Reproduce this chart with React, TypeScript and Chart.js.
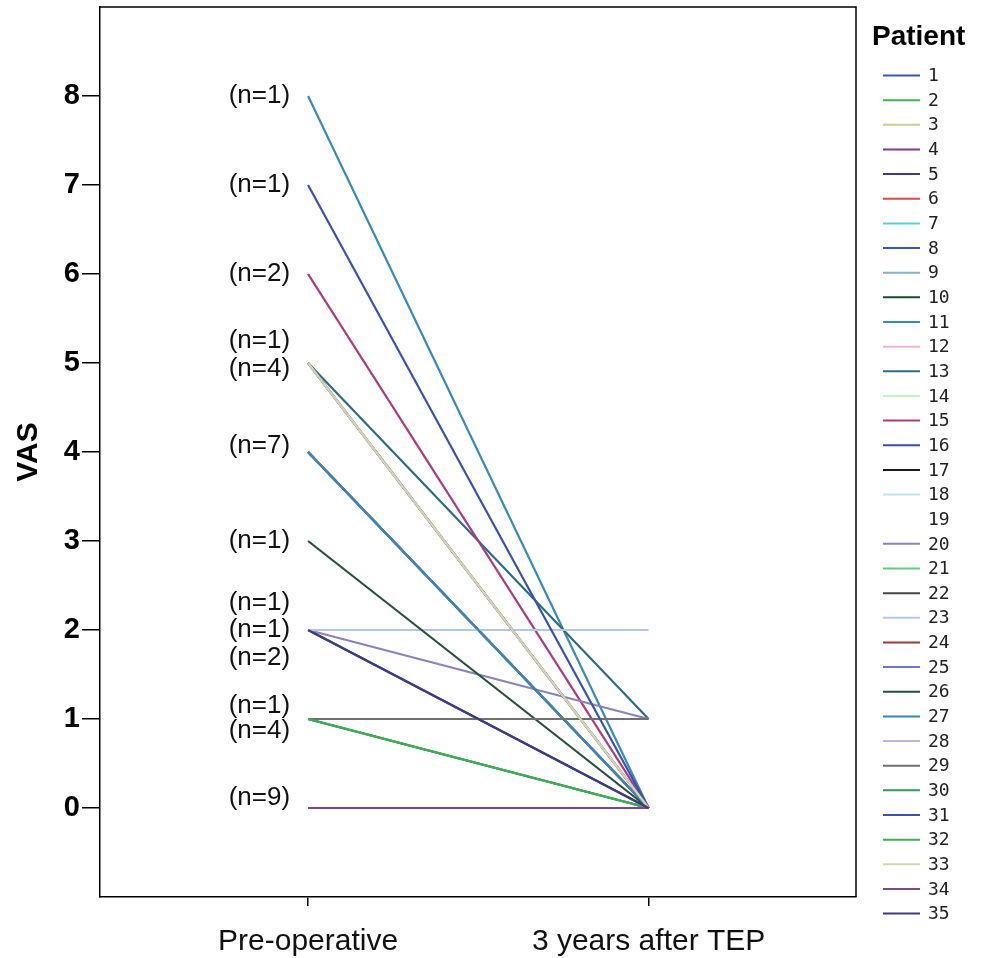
import React, { useEffect, useRef } from "react";
import { Chart, registerables } from "chart.js";

Chart.register(...registerables);

const categories = ["Pre-operative", "3 years after TEP"];
const patients = Array.from({ length: 35 }, (_, i) => String(i + 1));
const preOperative = [4, 1, 5, 0, 2, 0, 0, 4, 0, 0, 8, 6, 5, 0, 6, 4, 0, 4, 4, 2, 1, 4, 2, 5, 5, 3, 4, 0, 1, 1, 7, 1, 5, 0, 2];
const threeYearsAfter = [0, 0, 0, 0, 0, 0, 0, 0, 0, 0, 0, 0, 1, 0, 0, 0, 0, 0, 0, 1, 0, 0, 2, 0, 0, 0, 0, 0, 1, 0, 0, 0, 0, 0, 0];
const patientColors = [
  "#3e58ac", "#3cb453", "#cfcc9c", "#7c3f8c", "#3d3d7e", "#d44a48", "#5cd0cc", "#3e58ac",
  "#86b4c2", "#1f4a32", "#3a8ab5", "#f0b4dc", "#2e6c86", "#c4f0cc", "#a83c82", "#3a4ca4",
  "#1a1a1a", "#bfe6e8", "#ffffff", "#8a84b8", "#5ccf7c", "#444444", "#b4c8e6", "#9a3a3a",
  "#6a72e0", "#27503a", "#3a86b8", "#c6b2e0", "#707070", "#2e9a5e", "#3a52aa", "#44aa58",
  "#d6d6ac", "#7a4a8a", "#3c3c82",
];
const countLabels = ["(n=1)", "(n=1)", "(n=2)", "(n=1)", "(n=4)", "(n=7)", "(n=1)", "(n=1)", "(n=1)", "(n=2)", "(n=1)", "(n=4)", "(n=9)"];
const countLabelPositions = [8, 7, 6, 5.25, 4.93, 4.07, 3.0, 2.31, 2.0, 1.69, 1.15, 0.87, 0.11];
const yTickValues = [0, 1, 2, 3, 4, 5, 6, 7, 8];
const xTickValues = [0, 1];

const FONT = "'Liberation Sans', Arial, Helvetica, sans-serif";

const decorPlugin = {
  id: "decor",
  afterDraw(chart: any) {
    const { ctx, chartArea, scales } = chart;
    ctx.save();
    ctx.strokeStyle = "#000";
    ctx.lineWidth = 1.5;
    ctx.beginPath();
    ctx.moveTo(chartArea.left, chartArea.top);
    ctx.lineTo(chartArea.right, chartArea.top);
    ctx.lineTo(chartArea.right, chartArea.bottom);
    ctx.stroke();

    const xs = scales.x;
    const ys = scales.y;
    ctx.fillStyle = "#111";
    ctx.font = `26px ${FONT}`;
    ctx.textAlign = "right";
    ctx.textBaseline = "middle";
    const lx = xs.getPixelForValue(0) - 18;
    countLabels.forEach((t, i) => {
      ctx.fillText(t, lx, ys.getPixelForValue(countLabelPositions[i]));
    });

    ctx.save();
    ctx.translate(29, (chartArea.top + chartArea.bottom) / 2);
    ctx.rotate(-Math.PI / 2);
    ctx.font = `bold 30px ${FONT}`;
    ctx.textAlign = "center";
    ctx.textBaseline = "middle";
    ctx.fillStyle = "#000";
    ctx.fillText("VAS", 0, 0);
    ctx.restore();

    ctx.font = `bold 28px ${FONT}`;
    ctx.textAlign = "left";
    ctx.textBaseline = "alphabetic";
    ctx.fillStyle = "#000";
    ctx.fillText("Patient", 872, 45);
    ctx.font = `18px 'DejaVu Sans Mono', monospace`;
    ctx.textBaseline = "middle";
    chart.data.datasets.forEach((ds: any, i: number) => {
      const y = 75.5 + i * 24.65;
      ctx.strokeStyle = ds.borderColor;
      ctx.lineWidth = 2;
      ctx.beginPath();
      ctx.moveTo(883, y);
      ctx.lineTo(920, y);
      ctx.stroke();
      ctx.fillStyle = "#222";
      ctx.fillText(ds.label, 928, y + 1);
    });
    ctx.restore();
  },
};

export default function App() {
  const ref = useRef<HTMLCanvasElement>(null);
  useEffect(() => {
    if (!ref.current) return;
    const n = patients.length;
    const chart = new Chart(ref.current, {
      type: "line",
      data: {
        datasets: patients.map((p, i) => ({
          label: p,
          data: [
            { x: 0, y: preOperative[i] },
            { x: 1, y: threeYearsAfter[i] },
          ],
          borderColor: patientColors[i],
          backgroundColor: patientColors[i],
          borderWidth: 2.2,
          pointRadius: 0,
          fill: false,
          order: n - i,
        })),
      },
      options: {
        responsive: false,
        animation: false,
        events: [],
        layout: { padding: { top: 7, right: 126, left: 0, bottom: 0 } },
        plugins: { legend: { display: false }, tooltip: { enabled: false }, title: { display: false } },
        scales: {
          x: {
            type: "linear",
            min: -0.611,
            max: 1.609,
            afterFit: (s: any) => {
              s.height = 61;
              s.paddingLeft = 0;
              s.paddingRight = 0;
            },
            afterBuildTicks: (s: any) => {
              s.ticks = xTickValues.map((v) => ({ value: v }));
            },
            ticks: {
              autoSkip: false,
              maxRotation: 0,
              padding: 18,
              color: "#111",
              font: { family: FONT, size: 30 },
              callback: (v: any) => categories[Number(v)] ?? "",
            },
            grid: { drawOnChartArea: false, drawTicks: true, tickLength: 9, color: "#000", lineWidth: 1.5 },
            border: { display: true, color: "#000", width: 1.5 },
          },
          y: {
            type: "linear",
            min: -1,
            max: 9,
            afterFit: (s: any) => {
              s.width = 100;
              s.paddingTop = 0;
              s.paddingBottom = 0;
            },
            afterBuildTicks: (s: any) => {
              s.ticks = yTickValues.map((v) => ({ value: v }));
            },
            ticks: {
              autoSkip: false,
              padding: 2,
              color: "#000",
              font: { family: FONT, size: 29, weight: "bold" },
            },
            grid: { drawOnChartArea: false, drawTicks: true, tickLength: 18, color: "#000", lineWidth: 1.5 },
            border: { display: true, color: "#000", width: 1.5 },
          },
        },
      },
      plugins: [decorPlugin],
    } as any);
    return () => chart.destroy();
  }, []);
  return (
    <div style={{ position: "absolute", left: 0, top: 0, width: 982, height: 958, background: "#fff" }}>
      <canvas ref={ref} width={982} height={958} style={{ width: 982, height: 958, display: "block" }} />
    </div>
  );
}
